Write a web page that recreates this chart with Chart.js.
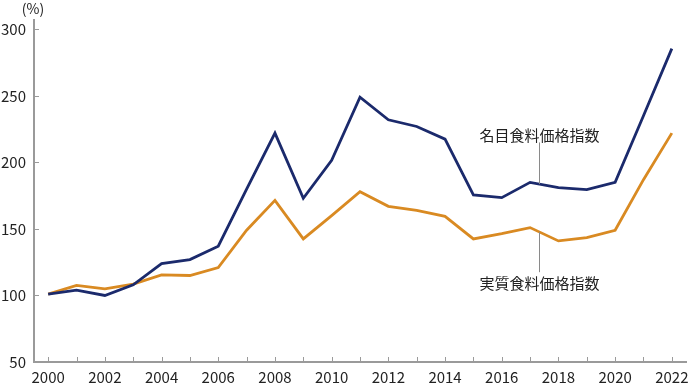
<!DOCTYPE html>
<html>
<head>
<meta charset="utf-8">
<script src="https://cdn.jsdelivr.net/npm/chart.js@4.4.0/dist/chart.umd.min.js"></script>
<style>
  html, body { margin: 0; padding: 0; background: #fff; }
  #wrap { width: 690px; height: 384px; }
</style>
</head>
<body>
<div id="wrap"><canvas id="foodChart"></canvas></div>
<script>
const years = ['2000','2001','2002','2003','2004','2005','2006','2007','2008','2009','2010',
               '2011','2012','2013','2014','2015','2016','2017','2018','2019','2020','2021','2022'];
const nominalIndex = [101, 104, 100, 108, 124, 127, 137, 180, 222, 173, 201.5,
                      249, 232, 227, 217.5, 175.5, 173.5, 185, 181, 179.5, 185, 235, 285.5];
const realIndex = [101, 107.5, 105, 108.5, 115.5, 115, 121, 149, 171.5, 142.5, 160,
                   178, 167, 164, 159.5, 142.5, 146.5, 151, 141, 143.5, 149, 187, 222];
const yTickValues = [50, 100, 150, 200, 250, 300];
const seriesNames = ['名目食料価格指数', '実質食料価格指数'];

const FONT = '"Noto Sans CJK JP", "Noto Sans", sans-serif';
const TEXT = '#222';
const AXIS = '#9a9a9a';

// value on a series at a fractional category index
function valueAt(series, idx) {
    const i = Math.floor(idx), f = idx - i;
    return series[i] + (series[i + 1] - series[i]) * f;
}

// leader labels: which series, where along x, how far the leader goes, where the text sits
const leaders = [
    { text: seriesNames[0], series: nominalIndex, at: 17.33, lineTo: 215, textAt: 220.5 },
    { text: seriesNames[1], series: realIndex, at: 17.33, lineTo: 117.5, textAt: 109.5 }
];

const extras = {
    id: 'extras',
    afterDraw(chart) {
        const ctx = chart.ctx;
        const x = chart.scales.x, y = chart.scales.y;
        ctx.save();
        // inward tick marks
        ctx.strokeStyle = AXIS;
        ctx.lineWidth = 1;
        x.ticks.forEach((t, i) => {
            const px = Math.round(x.getPixelForTick(i)) + 0.5;
            ctx.beginPath();
            ctx.moveTo(px, y.bottom);
            ctx.lineTo(px, y.bottom - 5);
            ctx.stroke();
        });
        y.ticks.forEach((t, i) => {
            const py = Math.round(y.getPixelForTick(i)) + 0.5;
            ctx.beginPath();
            ctx.moveTo(x.left, py);
            ctx.lineTo(x.left + 5, py);
            ctx.stroke();
        });
        // unit
        ctx.fillStyle = TEXT;
        ctx.font = '14px ' + FONT;
        ctx.textAlign = 'center';
        ctx.textBaseline = 'middle';
        ctx.fillText('(%)', 33, 9);
        // leader lines + labels
        ctx.font = '15px ' + FONT;
        leaders.forEach(l => {
            const px = Math.round(x.getPixelForValue(l.at)) + 0.5;
            const from = y.getPixelForValue(valueAt(l.series, l.at));
            const to = y.getPixelForValue(l.lineTo);
            ctx.strokeStyle = '#8a8a8a';
            ctx.beginPath();
            ctx.moveTo(px, from);
            ctx.lineTo(px, to);
            ctx.stroke();
            ctx.fillStyle = TEXT;
            ctx.fillText(l.text, px, y.getPixelForValue(l.textAt));
        });
        ctx.restore();
    }
};

new Chart(document.getElementById('foodChart'), {
    type: 'line',
    data: {
        labels: years,
        datasets: [
            { label: seriesNames[0], data: nominalIndex, borderColor: '#1b2a6c', borderWidth: 2.8,
              pointRadius: 0, tension: 0, fill: false },
            { label: seriesNames[1], data: realIndex, borderColor: '#d98a22', borderWidth: 2.8,
              pointRadius: 0, tension: 0, fill: false }
        ]
    },
    options: {
        responsive: true,
        maintainAspectRatio: false,
        animation: false,
        layout: { padding: { top: 20, right: 4, left: 0, bottom: 0 } },
        plugins: { legend: { display: false }, tooltip: { enabled: false } },
        scales: {
            x: {
                type: 'category',
                offset: true,
                grid: { display: false, drawTicks: false },
                border: { display: true, color: AXIS, width: 2 },
                ticks: {
                    autoSkip: false, maxRotation: 0, padding: 6,
                    color: TEXT, font: { family: FONT, size: 15 },
                    callback: function (v) {
                        const yr = Number(this.getLabelForValue(v));
                        return yr % 2 === 0 ? String(yr) : '';
                    }
                },
                afterFit: s => { s.height = 22; s.paddingLeft = 0; s.paddingRight = 0; }
            },
            y: {
                min: 50, max: 307,
                grid: { display: false, drawTicks: false },
                border: { display: true, color: AXIS, width: 2 },
                ticks: { padding: 8, color: TEXT, font: { family: FONT, size: 15 } },
                afterBuildTicks: s => { s.ticks = yTickValues.map(v => ({ value: v })); },
                afterFit: s => { s.width = 34; }
            }
        }
    },
    plugins: [extras]
});
</script>
</body>
</html>
